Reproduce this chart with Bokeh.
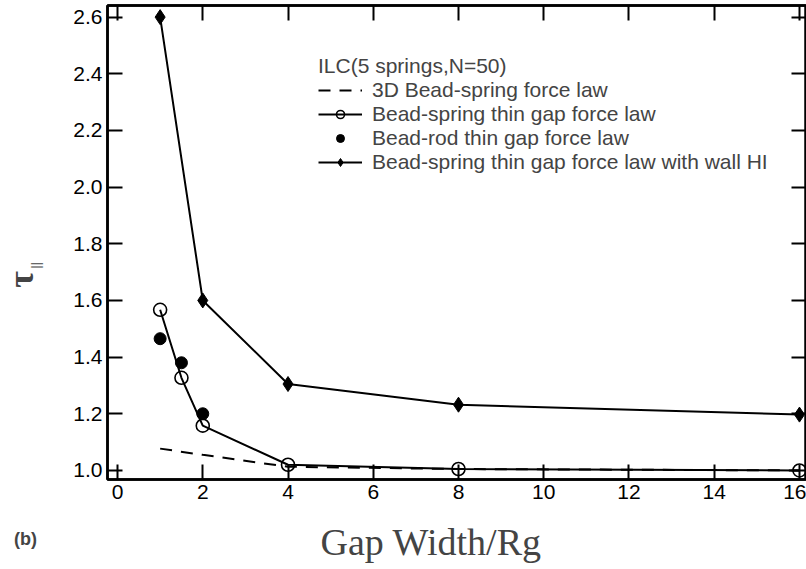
from math import pi
from bokeh.plotting import figure
from bokeh.layouts import row, column
from bokeh.models import Range1d, LinearAxis, Legend, LegendItem, FixedTicker, Label
from bokeh.embed import file_html
from bokeh.resources import INLINE

# ---- data ----
gap_3d = [1, 2, 4, 8, 16]
tau_3d = [1.077, 1.055, 1.013, 1.005, 1.0]

gap_spring = [1, 1.5, 2, 4, 8, 16]
tau_spring = [1.567, 1.327, 1.158, 1.02, 1.005, 1.0]

gap_rod = [1, 1.5, 2]
tau_rod = [1.465, 1.38, 1.2]

gap_wall = [1, 2, 4, 8, 16]
tau_wall = [2.6, 1.6, 1.305, 1.232, 1.197]

x_ticks = [0, 2, 4, 6, 8, 10, 12, 14, 16]
y_ticks = [1.0, 1.2, 1.4, 1.6, 1.8, 2.0, 2.2, 2.4, 2.6]
y_tick_labels = {1.0: "1.0", 1.2: "1.2", 1.4: "1.4", 1.6: "1.6", 1.8: "1.8",
                 2.0: "2.0", 2.2: "2.2", 2.4: "2.4", 2.6: "2.6"}

legend_title = "ILC(5 springs,N=50)"
names = ["3D Bead-spring force law",
         "Bead-spring thin gap force law",
         "Bead-rod thin gap force law",
         "Bead-spring thin gap force law with wall HI"]
x_label = "Gap Width/Rg"
y_label = "τ"
y_label_sub = "||"
panel_tag = "(b)"

FONT = "Liberation Sans"
SERIF = "Liberation Serif"

LEFT_W = 60      # strip holding the y label
MAIN_W = 806 - LEFT_W
MAIN_H = 505
BOTTOM_H = 569 - MAIN_H

# ---------------- main plot ----------------
p = figure(width=MAIN_W, height=MAIN_H, output_backend="svg", toolbar_location=None,
           x_range=Range1d(-0.235, 16.165), y_range=Range1d(0.968, 2.641),
           min_border_left=107 - LEFT_W, min_border_right=0, min_border_top=5,
           min_border_bottom=MAIN_H - 479)
p.xgrid.visible = False
p.ygrid.visible = False
p.outline_line_color = "black"
p.outline_line_width = 2.5
p.background_fill_color = "white"
p.border_fill_color = "white"

def style_axis(ax, ticks, labels=True):
    ax.ticker = FixedTicker(ticks=ticks)
    ax.axis_line_color = "black"
    ax.axis_line_width = 2.5
    ax.major_tick_in = 15
    ax.major_tick_out = 0
    ax.major_tick_line_width = 2
    ax.minor_tick_in = 0
    ax.minor_tick_out = 0
    ax.major_label_text_font = FONT
    ax.major_label_text_color = "black"
    ax.major_label_text_font_size = "21px"
    if labels:
        ax.major_label_standoff = 5
    else:
        ax.major_label_overrides = {t: "" for t in ticks}
        ax.major_label_standoff = 0

xb = p.xaxis[0]
style_axis(xb, x_ticks)
yl = p.yaxis[0]
style_axis(yl, y_ticks)
yl.major_label_overrides = y_tick_labels

xt = LinearAxis()
style_axis(xt, x_ticks, labels=False)
p.add_layout(xt, "above")
yr = LinearAxis()
style_axis(yr, y_ticks, labels=False)
p.add_layout(yr, "right")

r_3d = p.line(gap_3d, tau_3d, line_color="black", line_width=2, line_dash="12 9")

r_sp_line = p.line(gap_spring, tau_spring, line_color="black", line_width=2)
r_sp_pts = p.scatter(gap_spring, tau_spring, marker="circle", size=13,
                     fill_color="white", fill_alpha=0, line_color="black", line_width=1.6)

r_rod = p.scatter(gap_rod, tau_rod, marker="circle", size=12,
                  fill_color="black", line_color="black")

r_wall_line = p.line(gap_wall, tau_wall, line_color="black", line_width=2)
r_wall_pts = p.scatter(gap_wall, tau_wall, marker="diamond", size=15,
                       fill_color="black", line_color="black")

legend = Legend(items=[
    LegendItem(label=names[0], renderers=[r_3d]),
    LegendItem(label=names[1], renderers=[r_sp_line, r_sp_pts]),
    LegendItem(label=names[2], renderers=[r_rod]),
    LegendItem(label=names[3], renderers=[r_wall_line, r_wall_pts]),
], location=(211, 305))
legend.title = legend_title
legend.title_text_font = FONT
legend.title_text_font_size = "21px"
legend.title_text_font_style = "normal"
legend.title_standoff = 0
legend.label_text_font = FONT
legend.label_text_font_size = "21px"
legend.label_height = 21
legend.glyph_height = 20
legend.glyph_width = 44
legend.label_standoff = 10
legend.spacing = -1
legend.padding = 0
legend.margin = 0
legend.border_line_alpha = 0
legend.background_fill_alpha = 0
p.add_layout(legend, "center")

# ---------------- strips that carry the outer texts ----------------
def blank(w, h):
    f = figure(width=w, height=h, output_backend="svg", toolbar_location=None,
               x_range=Range1d(0, w), y_range=Range1d(0, h),
               x_axis_type=None, y_axis_type=None, min_border=0)
    f.xgrid.visible = False
    f.ygrid.visible = False
    f.outline_line_color = None
    f.background_fill_color = "white"
    f.border_fill_color = "white"
    return f

left = blank(LEFT_W, MAIN_H)
left.add_layout(Label(x=20, y=MAIN_H - 292, text=y_label, angle=pi / 2,
                      text_font=SERIF, text_font_size="36px",
                      text_font_style="bold",
                      text_align="center", text_baseline="middle"))
left.add_layout(Label(x=35, y=MAIN_H - 277, text=y_label_sub, angle=pi / 2,
                      text_font=FONT, text_font_size="13px",
                      text_align="center", text_baseline="middle"))

bottom = blank(806, BOTTOM_H)
bottom.add_layout(Label(x=25, y=BOTTOM_H - (538 - MAIN_H), text=panel_tag,
                        text_font=FONT, text_font_size="18px", text_font_style="bold",
                        text_align="center", text_baseline="middle"))
bottom.add_layout(Label(x=320, y=BOTTOM_H - (541 - MAIN_H), text=x_label,
                        text_font=SERIF, text_font_size="38px",
                        text_align="left", text_baseline="middle"))

layout = column(row(left, p, spacing=0), bottom, spacing=0)

open("out.html", "w").write(file_html(layout, INLINE))
